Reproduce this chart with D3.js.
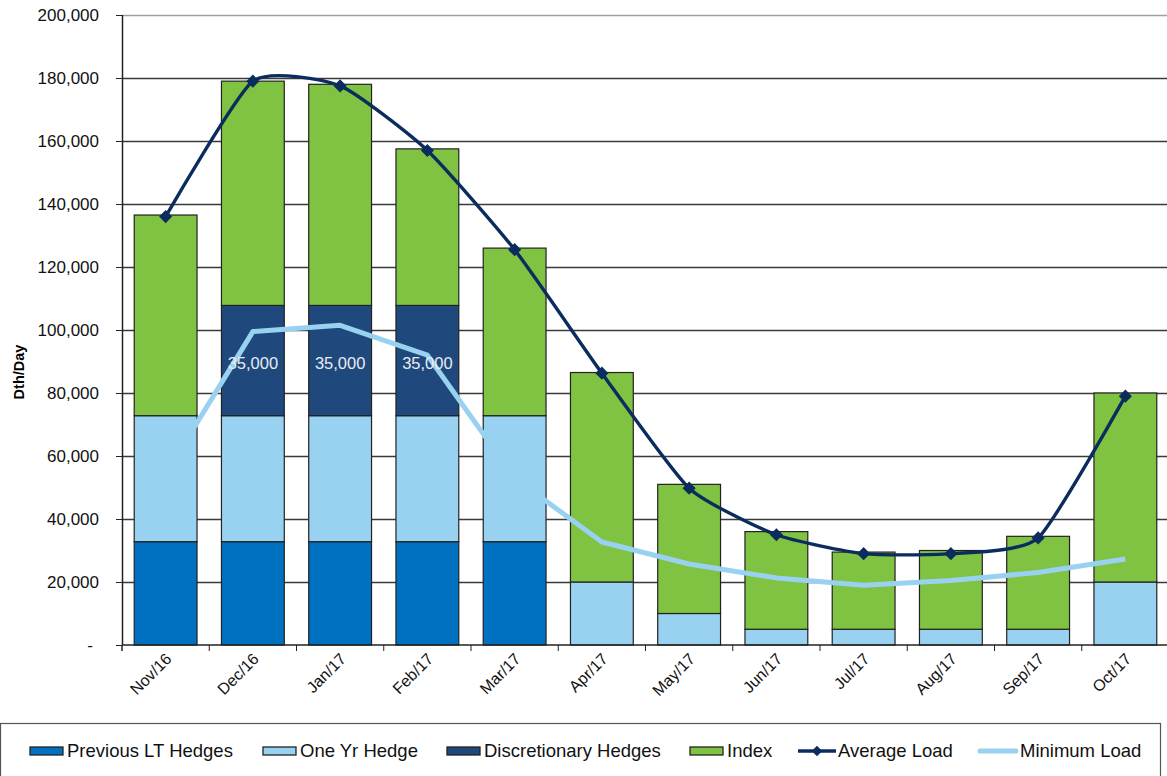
<!DOCTYPE html>
<html>
<head>
  <title>Hedge Chart</title>
  <script src="https://d3js.org/d3.v7.min.js"></script>
  <style>
    body { margin: 0; background: #fff; }
    text { font-family: "Liberation Sans", Arial, sans-serif; }
  </style>
</head>
<body>
  <div id="chart"></div>
  <script>
    // Data
    const months = ["Nov/16", "Dec/16", "Jan/17", "Feb/17", "Mar/17", "Apr/17", "May/17", "Jun/17", "Jul/17", "Aug/17", "Sep/17", "Oct/17"];
    const prevLT = [32800, 32800, 32800, 32800, 32800, 0, 0, 0, 0, 0, 0, 0];
    const oneYr = [40000, 40000, 40000, 40000, 40000, 20000, 10000, 5000, 5000, 5000, 5000, 20000];
    const discretionary = [0, 35000, 35000, 35000, 0, 0, 0, 0, 0, 0, 0, 0];
    const indexVals = [63700, 71200, 70200, 49700, 53200, 66500, 41000, 31000, 24500, 25000, 29500, 60000];
    const avgLoad = [136000, 179000, 177500, 157000, 125500, 86300, 49800, 35000, 29000, 29000, 34000, 79000];
    const minLoad = [54300, 99500, 101500, 92000, 53000, 32700, 25700, 21300, 19000, 20500, 23000, 27300];
    const yTicks = [0, 20000, 40000, 60000, 80000, 100000, 120000, 140000, 160000, 180000, 200000];

    const seriesNames = ["Previous LT Hedges", "One Yr Hedge", "Discretionary Hedges", "Index"];
    const seriesColors = ["#0070c0", "#99d1f0", "#1f497d", "#80c241"];
    const avgColor = "#0b2d5e";
    const minColor = "#99d1f0";

    const width = 1167, height = 776;
    const margin = { left: 122, right: -2, top: 15, bottom: 131 };

    const svg = d3.select("#chart").append("svg")
      .attr("width", width)
      .attr("height", height);

    const x = d3.scaleBand()
      .domain(months)
      .range([margin.left, width - margin.right])
      .paddingInner(0.28)
      .paddingOuter(0.14);

    const y = d3.scaleLinear()
      .domain([0, 200000])
      .range([height - margin.bottom, margin.top]);

    // gridlines
    svg.append("g")
      .selectAll("line")
      .data(yTicks.filter(d => d > 0))
      .enter()
      .append("line")
      .attr("x1", margin.left)
      .attr("x2", width)
      .attr("y1", d => Math.round(y(d)) + 0.5)
      .attr("y2", d => Math.round(y(d)) + 0.5)
      .attr("stroke", d => d === 200000 ? "#a0a0a0" : "#3a3a3a")
      .attr("stroke-width", 1.3);

    // stacked bars
    const table = months.map((m, i) => ({
      month: m,
      s0: prevLT[i], s1: oneYr[i], s2: discretionary[i], s3: indexVals[i]
    }));
    const stack = d3.stack().keys(["s0", "s1", "s2", "s3"]);
    const layers = stack(table);

    const bars = svg.append("g");
    layers.forEach((layer, li) => {
      bars.selectAll(".bar" + li)
        .data(layer.filter(d => d[1] - d[0] > 0))
        .enter()
        .append("rect")
        .attr("x", d => x(d.data.month))
        .attr("y", d => y(d[1]))
        .attr("width", x.bandwidth())
        .attr("height", d => y(d[0]) - y(d[1]))
        .attr("fill", seriesColors[li])
        .attr("stroke", "#222")
        .attr("stroke-width", 1.2);
    });

    // x axis
    const xAxis = svg.append("g")
      .attr("transform", `translate(0,${y(0)})`);
    xAxis.append("line")
      .attr("x1", margin.left).attr("x2", width)
      .attr("stroke", "#222").attr("stroke-width", 1.5);
    xAxis.selectAll(".tick")
      .data(months)
      .enter()
      .append("line")
      .attr("x1", d => x(d) - x.step() * x.paddingInner() / 2)
      .attr("x2", d => x(d) - x.step() * x.paddingInner() / 2)
      .attr("y1", 0).attr("y2", 6)
      .attr("stroke", "#222");
    xAxis.append("line")
      .attr("x1", margin.left).attr("x2", margin.left)
      .attr("y1", 0).attr("y2", 6)
      .attr("stroke", "#222");
    xAxis.selectAll(".lbl")
      .data(months)
      .enter()
      .append("text")
      .attr("transform", d => `translate(${x(d) + x.bandwidth() / 2 + 7},${15}) rotate(-45)`)
      .attr("text-anchor", "end")
      .attr("font-size", 16)
      .attr("fill", "#111")
      .text(d => d);

    // y axis
    const yAxis = svg.append("g");
    yAxis.append("line")
      .attr("x1", margin.left + 0.5).attr("x2", margin.left + 0.5)
      .attr("y1", y(200000)).attr("y2", y(0))
      .attr("stroke", "#222").attr("stroke-width", 1.5);
    yAxis.selectAll(".ytick")
      .data(yTicks)
      .enter()
      .append("line")
      .attr("x1", margin.left - 6).attr("x2", margin.left)
      .attr("y1", d => Math.round(y(d)) + 0.5)
      .attr("y2", d => Math.round(y(d)) + 0.5)
      .attr("stroke", "#222");
    yAxis.selectAll(".ylbl")
      .data(yTicks)
      .enter()
      .append("text")
      .attr("x", d => d === 0 ? 93 : 99)
      .attr("y", d => y(d) + 6)
      .attr("text-anchor", "end")
      .attr("font-size", 17)
      .attr("fill", "#111")
      .text(d => d === 0 ? "-" : d3.format(",")(d));

    svg.append("text")
      .attr("transform", `translate(24,${(y(0) + y(200000)) / 2 + 42}) rotate(-90)`)
      .attr("text-anchor", "middle")
      .attr("font-size", 14.5)
      .attr("font-weight", "bold")
      .text("Dth/Day");

    // minimum load line
    const cx = d => x(d) + x.bandwidth() / 2;
    const minLine = d3.line()
      .x((d, i) => cx(months[i]))
      .y(d => y(d));
    svg.append("path")
      .datum(minLoad)
      .attr("fill", "none")
      .attr("stroke", minColor)
      .attr("stroke-width", 5)
      .attr("stroke-linejoin", "round")
      .attr("d", minLine);

    // average load line (smoothed)
    const avgLine = d3.line()
      .x((d, i) => cx(months[i]))
      .y(d => y(d))
      .curve(d3.curveCardinal.tension(0.45));
    svg.append("path")
      .datum(avgLoad)
      .attr("fill", "none")
      .attr("stroke", avgColor)
      .attr("stroke-width", 3.4)
      .attr("d", avgLine);
    svg.append("g")
      .selectAll("path")
      .data(avgLoad)
      .enter()
      .append("path")
      .attr("transform", (d, i) => `translate(${cx(months[i])},${y(d)})`)
      .attr("d", d3.symbol().type(d3.symbolDiamond2).size(110))
      .attr("fill", avgColor);

    // data labels for discretionary hedges
    svg.append("g")
      .selectAll("text")
      .data(layers[2].filter(d => d[1] - d[0] > 0))
      .enter()
      .append("text")
      .attr("x", d => cx(d.data.month))
      .attr("y", d => (y(d[0]) + y(d[1])) / 2 + 8)
      .attr("text-anchor", "middle")
      .attr("font-size", 16.5)
      .attr("fill", "#e8ecf2")
      .text(d => d3.format(",")(d[1] - d[0]));

    // legend
    const legend = svg.append("g");
    legend.append("rect")
      .attr("x", 0.5).attr("y", 723.5)
      .attr("width", 1160).attr("height", 60)
      .attr("fill", "#fff")
      .attr("stroke", "#555")
      .attr("stroke-width", 1.2);

    const legendItems = [
      { name: seriesNames[0], type: "box", color: seriesColors[0], x: 30 },
      { name: seriesNames[1], type: "box", color: seriesColors[1], x: 263 },
      { name: seriesNames[2], type: "box", color: seriesColors[2], x: 447 },
      { name: seriesNames[3], type: "box", color: seriesColors[3], x: 690 },
      { name: "Average Load", type: "avg", color: avgColor, x: 798 },
      { name: "Minimum Load", type: "min", color: minColor, x: 980 }
    ];
    const ly = 751;
    legendItems.forEach(it => {
      if (it.type === "box") {
        legend.append("rect")
          .attr("x", it.x).attr("y", ly - 4)
          .attr("width", 33).attr("height", 8)
          .attr("fill", it.color)
          .attr("stroke", "#222").attr("stroke-width", 1.3);
      } else if (it.type === "avg") {
        legend.append("line")
          .attr("x1", it.x).attr("x2", it.x + 38)
          .attr("y1", ly).attr("y2", ly)
          .attr("stroke", it.color).attr("stroke-width", 3.4);
        legend.append("path")
          .attr("transform", `translate(${it.x + 19},${ly})`)
          .attr("d", d3.symbol().type(d3.symbolDiamond2).size(70))
          .attr("fill", it.color);
      } else {
        legend.append("line")
          .attr("x1", it.x).attr("x2", it.x + 36)
          .attr("y1", ly).attr("y2", ly)
          .attr("stroke", it.color).attr("stroke-width", 5)
          .attr("stroke-linecap", "round");
      }
      legend.append("text")
        .attr("x", it.x + (it.type === "box" ? 37 : 40))
        .attr("y", ly + 6)
        .attr("font-size", 18.5)
        .attr("fill", "#111")
        .text(it.name);
    });
  </script>
</body>
</html>
